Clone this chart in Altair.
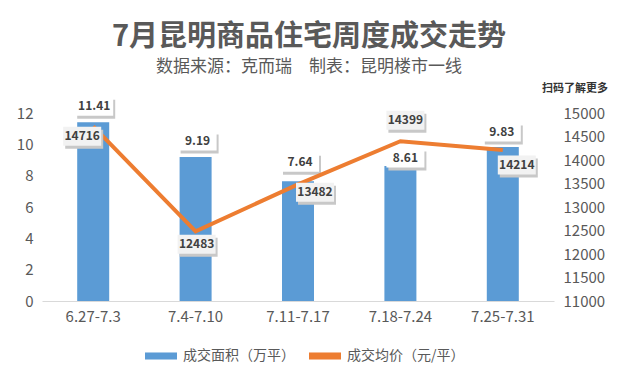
import altair as alt
import pandas as pd

# ---------------- data ----------------
weeks = ["6.27-7.3", "7.4-7.10", "7.11-7.17", "7.18-7.24", "7.25-7.31"]
area = [11.41, 9.19, 7.64, 8.61, 9.83]          # 成交面积（万平）
price = [14716, 12483, 13482, 14399, 14214]     # 成交均价（元/平）
left_ticks = [0, 2, 4, 6, 8, 10, 12]
right_ticks = [11000, 11500, 12000, 12500, 13000, 13500, 14000, 14500, 15000]
series = ["成交面积（万平）", "成交均价（元/平）"]
title_text = "7月昆明商品住宅周度成交走势"
subtitle_text = "数据来源：克而瑞\u3000制表：昆明楼市一线"
qr_caption = ["扫码了解更多"]

# ---------------- layout / style (label nudges in px) ----------------
area_dx = [1, 2, 2, 5, -1]
area_dy = [-16, -16, -19, -8, -15]
price_dx = [-11, 1, 17, 5, 14]
price_dy = [10, 13, 8, -21, 15]

FONT = "Noto Sans CJK SC"
GRAY = "#595959"
BLUE = "#5B9BD5"
ORANGE = "#ED7D31"
BOX = "M-1,-0.5L1,-0.5L1,0.5L-1,0.5Z"
LEG = "M-1,-0.22L1,-0.22L1,0.22L-1,0.22Z"

df = pd.DataFrame({
    "week": weeks,
    "area": area,
    "price": price,
    "area_txt": [f"{v:.2f}" for v in area],
    "price_txt": [str(v) for v in price],
})

base = alt.Chart(df)

x = alt.X("week:N", sort=weeks,
          scale=alt.Scale(paddingInner=0, paddingOuter=0),
          axis=alt.Axis(title=None, labelAngle=0, ticks=False, domainColor="#d9d9d9",
                        labelColor=GRAY, labelFontSize=15, labelFont=FONT, labelPadding=8))

yL = alt.Y("area:Q", scale=alt.Scale(domain=[0, 12], nice=False),
           axis=alt.Axis(title=None, values=left_ticks, grid=False, domain=False, ticks=False,
                         labelColor=GRAY, labelFontSize=15, labelFont=FONT, labelPadding=9))
yR = alt.Y("price:Q", scale=alt.Scale(domain=[11000, 15000], nice=False, zero=False),
           axis=alt.Axis(title=None, orient="right", values=right_ticks, grid=False, domain=False,
                         ticks=False, format="d", labelColor=GRAY, labelFontSize=15,
                         labelFont=FONT, labelPadding=9))

color = alt.Color("s:N", scale=alt.Scale(domain=series, range=[BLUE, ORANGE]),
                  legend=alt.Legend(title=None, orient="none", legendX=103, legendY=227,
                                    direction="horizontal", symbolType=LEG, symbolSize=1024,
                                    symbolStrokeWidth=0, labelFontSize=14, labelColor=GRAY,
                                    labelFont=FONT, columnPadding=14, labelOffset=6))

bars = base.mark_bar(width=32).encode(x=x, y=yL, color=color).transform_calculate(
    s=f"'{series[0]}'")
line = base.mark_line(strokeWidth=4).encode(x=x, y=yR, color=color).transform_calculate(
    s=f"'{series[1]}'")

bar_layers = [bars]
line_layers = [line]
for i, w in enumerate(weeks):
    sub = base.transform_filter(alt.datum.week == w)
    bar_layers += [
        sub.mark_point(shape=BOX, size=1444, filled=True, color="#c8c8c8", opacity=1,
                       strokeWidth=0, xOffset=area_dx[i] + 2, yOffset=area_dy[i] + 3
                       ).encode(x=x, y=yL),
        sub.mark_point(shape=BOX, size=1444, filled=True, color="#ffffff", opacity=1,
                       strokeWidth=0, xOffset=area_dx[i], yOffset=area_dy[i]
                       ).encode(x=x, y=yL),
        sub.mark_text(font=FONT, fontSize=12, fontWeight="bold", color="#404040",
                      dx=area_dx[i], dy=area_dy[i]).encode(x=x, y=yL, text="area_txt:N"),
    ]
    line_layers += [
        sub.mark_point(shape=BOX, size=1444, filled=True, color="#c8c8c8", opacity=1,
                       strokeWidth=0, xOffset=price_dx[i] + 2, yOffset=price_dy[i] + 3
                       ).encode(x=x, y=yR),
        sub.mark_point(shape=BOX, size=1444, filled=True, color="#f2f2f2", opacity=1,
                       strokeWidth=0, xOffset=price_dx[i], yOffset=price_dy[i]
                       ).encode(x=x, y=yR),
        sub.mark_text(font=FONT, fontSize=12, fontWeight="bold", color="#404040",
                      dx=price_dx[i], dy=price_dy[i]).encode(x=x, y=yR, text="price_txt:N"),
    ]

caption = alt.Chart(pd.DataFrame({"t": qr_caption})).mark_text(
    font=FONT, fontSize=11, fontWeight="bold", color="#333333"
).encode(x=alt.value(533), y=alt.value(-24), text="t:N")
bar_layers.append(caption)

chart = alt.layer(
    alt.layer(*bar_layers),
    alt.layer(*line_layers),
).resolve_scale(y="independent").properties(
    width=512, height=188,
    title=alt.TitleParams(text=title_text, subtitle=subtitle_text, font=FONT, fontSize=29,
                          fontWeight="bold", color=GRAY, subtitleFont=FONT, subtitleFontSize=17,
                          subtitleColor=GRAY, anchor="middle", dx=11, offset=8,
                          subtitlePadding=7),
    autosize=alt.AutoSizeParams(type="none"),
    padding={"left": 34, "top": 105, "right": 57, "bottom": 73},
    background="white",
).configure_view(stroke=None)

chart.save("out.html", embed_options={"renderer": "svg", "actions": False})
